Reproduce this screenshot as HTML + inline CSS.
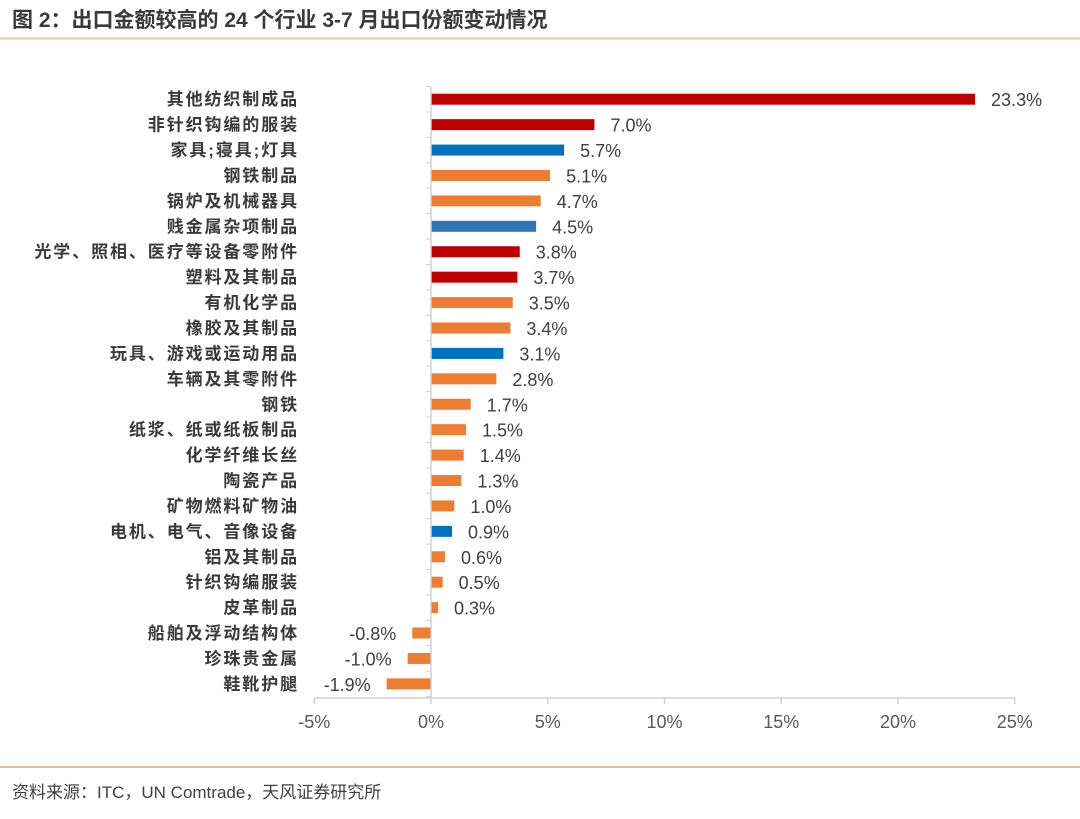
<!DOCTYPE html>
<html><head><meta charset="utf-8"><style>
body{margin:0;background:#fff;}
svg text{font-family:"Liberation Sans","Noto Sans CJK SC",sans-serif;}
</style></head><body>
<svg id="c" width="1080" height="814" xmlns="http://www.w3.org/2000/svg">
<text x="12" y="27" font-size="21" font-weight="bold" fill="#3a3a3a">图 2：出口金额较高的 24 个行业 3-7 月出口份额变动情况</text>
<line x1="0" y1="38.5" x2="1080" y2="38.5" stroke="#F4C79E" stroke-width="2"/>
<line x1="0" y1="767" x2="1080" y2="767" stroke="#D9A37A" stroke-width="1.5"/>
<text x="12" y="798" font-size="17" fill="#404040">资料来源：ITC，UN Comtrade，天风证券研究所</text>
<g id="plot"></g>
</svg>
<script>
const categories=["其他纺织制成品","非针织钩编的服装","家具;寝具;灯具","钢铁制品","锅炉及机械器具","贱金属杂项制品","光学、照相、医疗等设备零附件","塑料及其制品","有机化学品","橡胶及其制品","玩具、游戏或运动用品","车辆及其零附件","钢铁","纸浆、纸或纸板制品","化学纤维长丝","陶瓷产品","矿物燃料矿物油","电机、电气、音像设备","铝及其制品","针织钩编服装","皮革制品","船舶及浮动结构体","珍珠贵金属","鞋靴护腿"];
const values=[23.3,7.0,5.7,5.1,4.7,4.5,3.8,3.7,3.5,3.4,3.1,2.8,1.7,1.5,1.4,1.3,1.0,0.9,0.6,0.5,0.3,-0.8,-1.0,-1.9];
const colorGroups=["r","r","b","o","o","b2","r","r","o","o","b","o","o","o","o","o","o","b","o","o","o","o","o","o"];
const xTicks=[-5,0,5,10,15,20,25];
const tickLabels=["-5%","0%","5%","10%","15%","20%","25%"];
const palette={r:"#C00000",o:"#ED7D31",b:"#0070C0",b2:"#2E75B6"};
const NS="http://www.w3.org/2000/svg";
const g=document.getElementById("plot");
const x=v=>431+(v)*23.35;
const top0=86.5, step=25.42;
const y=i=>top0+i*step;
function mk(t,a){const e=document.createElementNS(NS,t);for(const k in a)e.setAttribute(k,a[k]);g.appendChild(e);return e;}
categories.forEach((c,i)=>{
  const v=values[i],cy=y(i)+step/2;
  const r=mk("rect",{x:Math.min(x(0),x(v)),y:cy-5.5,width:Math.abs(x(v)-x(0)),height:11,fill:palette[colorGroups[i]]});
  
  
  const l=mk("text",{x:299,y:cy+6,"font-size":17,"font-weight":"bold",fill:"#3a3a3a","text-anchor":"end","letter-spacing":1.9});
  l.textContent=c;
  
  
  const vt=mk("text",{x:v>=0?x(v)+16:x(v)-16,y:cy+7,"font-size":18,fill:"#404040","text-anchor":v>=0?"start":"end"});
  vt.textContent=v.toFixed(1)+"%";
  
  
});
const ya=mk("line",{x1:x(0),y1:top0,x2:x(0),y2:698,stroke:"#D0D0D0","stroke-width":1.5});


for(let i=0;i<=categories.length;i++){
  const t=mk("line",{x1:x(0)-5,y1:y(i),x2:x(0),y2:y(i),stroke:"#D0D0D0","stroke-width":1});
  
  
}
const xa=mk("line",{x1:x(-5),y1:698,x2:x(25),y2:698,stroke:"#D0D0D0","stroke-width":1.5});


xTicks.forEach((t,i)=>{
  const tk=mk("line",{x1:x(t),y1:698,x2:x(t),y2:704,stroke:"#D0D0D0","stroke-width":1.5});
  
  
  const tl=mk("text",{x:x(t),y:728,"font-size":18,fill:"#595959","text-anchor":"middle"});
  tl.textContent=tickLabels[i];
  
  
});
</script>
</body></html>
